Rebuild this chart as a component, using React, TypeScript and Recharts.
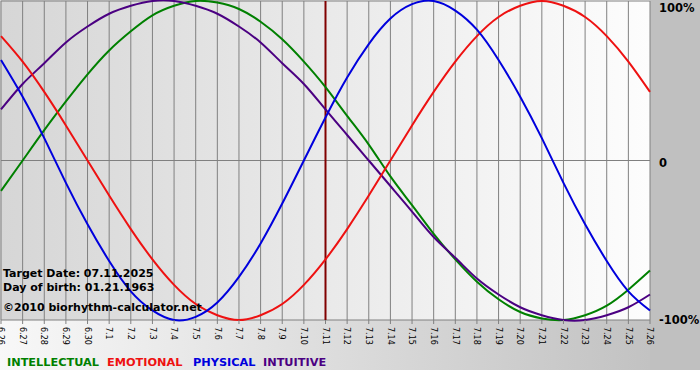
import React from "react";
import { CartesianGrid, Line, LineChart, ReferenceLine, XAxis, YAxis } from "recharts";

const DAYS = [
    "6.26", "6.27", "6.28", "6.29", "6.30",
    "7.1", "7.2", "7.3", "7.4", "7.5", "7.6", "7.7", "7.8", "7.9", "7.10",
    "7.11", "7.12", "7.13", "7.14", "7.15", "7.16", "7.17", "7.18", "7.19", "7.20",
    "7.21", "7.22", "7.23", "7.24", "7.25", "7.26",
];

const INTELLECTUAL = [
    -0.19, 0, 0.19, 0.37, 0.54, 0.69, 0.81, 0.91, 0.97, 1.0, 0.99, 0.95, 0.87, 0.76, 0.62,
    0.46, 0.28, 0.1, -0.1, -0.28, -0.46, -0.62, -0.76, -0.87, -0.95, -0.99, -1.0, -0.97, -0.91, -0.81, -0.69,
];
const EMOTIONAL = [
    0.78, 0.62, 0.43, 0.22, 0, -0.22, -0.43, -0.62, -0.78, -0.9, -0.97, -1.0, -0.97, -0.9, -0.78,
    -0.62, -0.43, -0.22, 0, 0.22, 0.43, 0.62, 0.78, 0.9, 0.97, 1.0, 0.97, 0.9, 0.78, 0.62, 0.43,
];
const PHYSICAL = [
    0.63, 0.4, 0.14, -0.14, -0.4, -0.63, -0.82, -0.94, -1.0, -0.98, -0.89, -0.73, -0.52, -0.27, 0,
    0.27, 0.52, 0.73, 0.89, 0.98, 1.0, 0.94, 0.82, 0.63, 0.4, 0.14, -0.14, -0.4, -0.63, -0.82, -0.94,
];
const INTUITIVE = [
    0.32, 0.48, 0.61, 0.74, 0.84, 0.92, 0.97, 1.0, 1.0, 0.97, 0.92, 0.84, 0.74, 0.61, 0.48,
    0.32, 0.16, 0, -0.16, -0.32, -0.48, -0.61, -0.74, -0.84, -0.92, -0.97, -1.0, -1.0, -0.97, -0.92, -0.84,
];

const Y_TICKS = [1, 0, -1];
const Y_LABELS: Record<string, string> = { "1": "100%", "0": "0", "-1": "-100%" };
const TARGET_DAY = "7.11";

const COLORS = {
    intellectual: "#008000",
    emotional: "#ee1111",
    physical: "#0000dd",
    intuitive: "#4b0082",
};

const FONT = "'DejaVu Sans', Verdana, sans-serif";

const rows = DAYS.map((day, i) => ({
    day,
    intellectual: INTELLECTUAL[i],
    emotional: EMOTIONAL[i],
    physical: PHYSICAL[i],
    intuitive: INTUITIVE[i],
}));

function DayTick({ x, y, payload }: any) {
    return (
        <text
            x={x}
            y={y}
            dy="0.35em"
            transform={`rotate(90 ${x} ${y})`}
            textAnchor="start"
            fontSize={8}
            fontFamily={FONT}
            fill="#000"
        >
            {payload.value}
        </text>
    );
}

function PercentTick({ y, payload }: any) {
    const offsets: Record<string, number> = { "1": 11, "0": 6, "-1": 4 };
    const key = String(payload.value);
    return (
        <text x={659} y={y + (offsets[key] ?? 4)} fontSize={11.5} fontWeight="bold" fontFamily={FONT} fill="#000">
            {Y_LABELS[key]}
        </text>
    );
}

const legendItems = [
    { label: "INTELLECTUAL", color: COLORS.intellectual, left: 7 },
    { label: "EMOTIONAL", color: COLORS.emotional, left: 107 },
    { label: "PHYSICAL", color: COLORS.physical, left: 193 },
    { label: "INTUITIVE", color: COLORS.intuitive, left: 263 },
];

export default function App() {
    return (
        <div style={{ position: "absolute", left: 0, top: 0, width: 700, height: 380, background: "#fff", overflow: "hidden" }}>
            {/* backgrounds */}
            <div style={{ position: "absolute", left: 0, top: 0, width: 650, height: 320, background: "linear-gradient(to right, #d6d6d6, #fdfdfd)" }} />
            <div style={{ position: "absolute", left: 650, top: 0, width: 50, height: 370, background: "#c0c0c0" }} />
            <div style={{ position: "absolute", left: 0, top: 320, width: 650, height: 50, background: "linear-gradient(to right, #f8f8f8, #c2c2c2)" }} />

            <div style={{ position: "absolute", left: 0, top: 0 }}>
                <LineChart width={700} height={380} data={rows} margin={{ top: 1, right: 0, left: 1, bottom: 0 }}>
                    <CartesianGrid stroke="#808080" strokeWidth={1} />
                    <XAxis
                        dataKey="day"
                        interval={0}
                        height={60}
                        axisLine={false}
                        tickLine={{ stroke: "#808080" }}
                        tickSize={4}
                        tickMargin={3}
                        tick={<DayTick />}
                    />
                    <YAxis
                        orientation="right"
                        width={50}
                        domain={[-1, 1]}
                        ticks={Y_TICKS}
                        interval={0}
                        axisLine={false}
                        tickLine={false}
                        tick={<PercentTick />}
                    />
                    <ReferenceLine x={TARGET_DAY} stroke="#800000" strokeWidth={2} />
                    <Line type="natural" dataKey="intellectual" stroke={COLORS.intellectual} strokeWidth={2} dot={false} isAnimationActive={false} />
                    <Line type="natural" dataKey="intuitive" stroke={COLORS.intuitive} strokeWidth={2} dot={false} isAnimationActive={false} />
                    <Line type="natural" dataKey="emotional" stroke={COLORS.emotional} strokeWidth={2} dot={false} isAnimationActive={false} />
                    <Line type="natural" dataKey="physical" stroke={COLORS.physical} strokeWidth={2} dot={false} isAnimationActive={false} />
                </LineChart>
            </div>

            <svg width={700} height={380} style={{ position: "absolute", left: 0, top: 0, pointerEvents: "none" }}>
                <g fontFamily={FONT} fontWeight="bold" fontSize={11} fill="#000">
                    <text x={3} y={277}>Target Date: 07.11.2025</text>
                    <text x={3} y={291}>Day of birth: 01.21.1963</text>
                    <text x={3} y={311}>©2010 biorhythm-calculator.net</text>
                </g>
                <g fontFamily={FONT} fontWeight="bold" fontSize={11.3}>
                    {legendItems.map((item) => (
                        <text key={item.label} x={item.left} y={366} fill={item.color}>
                            {item.label}
                        </text>
                    ))}
                </g>
            </svg>
        </div>
    );
}
